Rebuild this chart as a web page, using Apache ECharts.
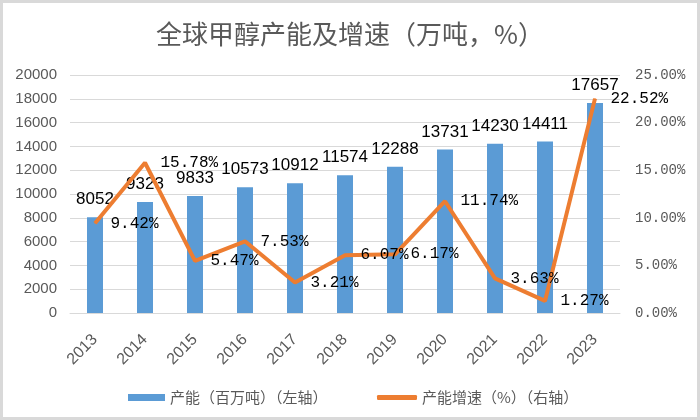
<!DOCTYPE html>
<html>
<head>
<meta charset="utf-8">
<title>全球甲醇产能及增速</title>
<script src="https://cdn.jsdelivr.net/npm/echarts@6/dist/echarts.min.js"></script>
<style>
  html, body { margin: 0; padding: 0; background: #fff; }
  #charts { width: 700px; height: 420px; }
</style>
</head>
<body>
<div id="charts"></div>
<script>
// 年份
const years = ['2013', '2014', '2015', '2016', '2017', '2018', '2019', '2020', '2021', '2022', '2023'];
// 产能（万吨）
const capacity = [8052, 9323, 9833, 10573, 10912, 11574, 12288, 13731, 14230, 14411, 17657];
// 产能增速（%）
const growth = [9.42, 15.78, 5.47, 7.53, 3.21, 6.07, 6.17, 11.74, 3.63, 1.27, 22.52];

const leftTicks = { min: 0, max: 20000, interval: 2000 };
const rightTicks = { min: 0, max: 25, interval: 5 };

const barName = '产能（百万吨）（左轴）';
const lineName = '产能增速（%）（右轴）';

const gray = '#595959';
const cjk = '"Noto Sans CJK SC", sans-serif';
const latin = '"Liberation Sans", Arial, sans-serif';
const mono = '"Liberation Mono", "DejaVu Sans Mono", monospace';

var myChart = echarts.init(document.getElementById('charts'));
myChart.setOption({
  animation: false,
  backgroundColor: '#fff',
  title: {
    text: '全球甲醇产能及增速（万吨，%）',
    left: 'center',
    top: 16,
    textStyle: { fontFamily: cjk, fontSize: 26, fontWeight: 'normal', color: gray }
  },
  graphic: [{
    type: 'rect',
    shape: { x: 1.5, y: 1.5, width: 697, height: 417 },
    style: { fill: 'none', stroke: '#d9d9d9', lineWidth: 3 },
    silent: true
  }],
  legend: [
    {
      data: [{ name: barName, icon: 'rect' }],
      left: 123, top: 385,
      itemWidth: 37, itemHeight: 7, itemGap: 6,
      textStyle: { fontFamily: cjk, fontSize: 15, color: gray }
    },
    {
      data: [{ name: lineName, icon: 'roundRect' }],
      left: 372, top: 385,
      itemWidth: 40, itemHeight: 5, itemGap: 4,
      textStyle: { fontFamily: cjk, fontSize: 15, color: gray }
    }
  ],
  grid: { left: 70, right: 80, top: 75, bottom: 107 },
  xAxis: {
    type: 'category',
    data: years,
    axisTick: { show: false },
    axisLine: { lineStyle: { color: '#d9d9d9', width: 1 } },
    axisLabel: {
      rotate: 45, margin: 24, interval: 0,
      fontFamily: latin, fontSize: 16, color: gray
    }
  },
  yAxis: [
    {
      type: 'value',
      min: leftTicks.min, max: leftTicks.max, interval: leftTicks.interval,
      axisLine: { show: false },
      axisTick: { show: false },
      splitLine: { lineStyle: { color: '#d9d9d9', width: 1 } },
      axisLabel: {
        margin: 13, fontFamily: latin, fontSize: 15, color: gray,
        formatter: function (v) { return String(v); }
      }
    },
    {
      type: 'value',
      min: rightTicks.min, max: rightTicks.max, interval: rightTicks.interval,
      axisLine: { show: false },
      axisTick: { show: false },
      splitLine: { show: false },
      axisLabel: {
        margin: 15, fontFamily: mono, fontSize: 14, color: gray,
        formatter: function (v) { return v.toFixed(2) + '%'; }
      }
    }
  ],
  series: [
    {
      name: barName,
      type: 'bar',
      data: capacity,
      barWidth: 16,
      itemStyle: { color: '#5B9BD5' },
      label: {
        show: true, position: 'top', distance: 9,
        fontFamily: latin, fontSize: 17, color: '#000'
      }
    },
    {
      name: lineName,
      type: 'line',
      yAxisIndex: 1,
      data: growth,
      symbol: 'circle',
      symbolSize: 1,
      itemStyle: { color: '#ED7D31' },
      lineStyle: { color: '#ED7D31', width: 4 },
      z: 5,
      label: {
        show: true, position: 'right', distance: 15,
        fontFamily: mono, fontSize: 16, color: '#000',
        formatter: function (p) { return p.value.toFixed(2) + '%'; }
      }
    }
  ]
});
</script>
</body>
</html>
